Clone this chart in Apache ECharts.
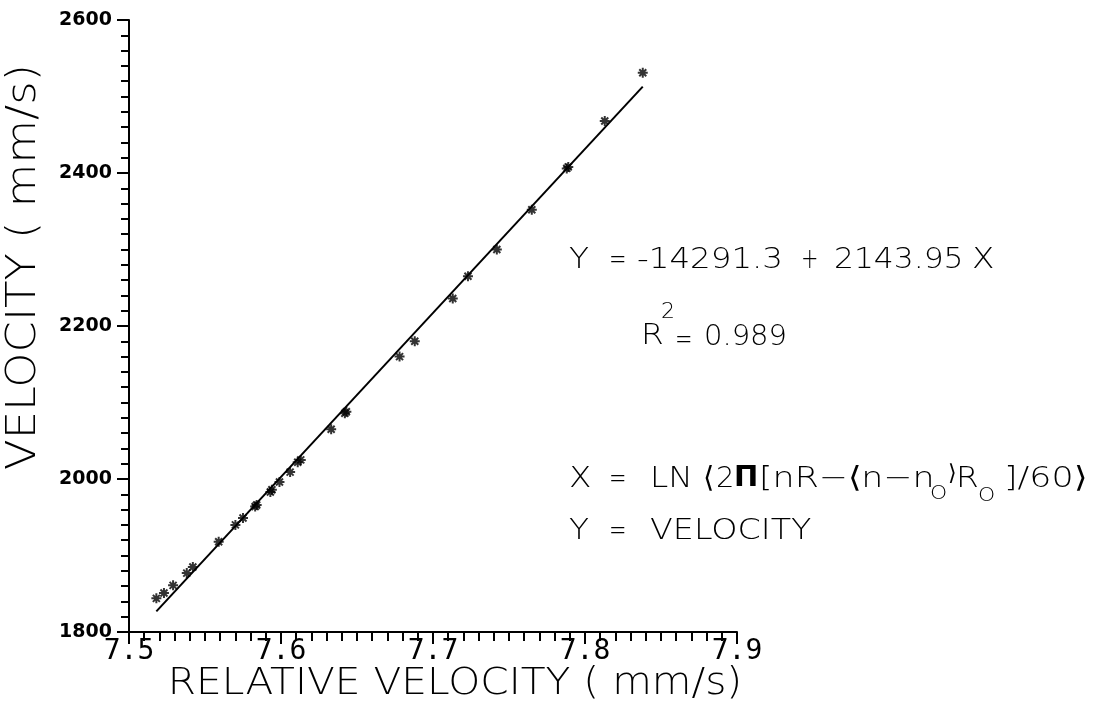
<!DOCTYPE html>
<html>
<head>
<meta charset="utf-8">
<script src="https://cdn.jsdelivr.net/npm/echarts@6/dist/echarts.min.js"></script>
<style>
  html, body { margin: 0; padding: 0; background: #fff; }
  #chart { width: 1107px; height: 706px; }
</style>
</head>
<body>
<div id="chart"></div>
<script>
// Measured runs: log relative velocity vs. velocity (mm/s)
const relVelocity = [7.518, 7.523, 7.529, 7.538, 7.542, 7.559, 7.570, 7.575, 7.583, 7.584,
                     7.593, 7.594, 7.599, 7.606, 7.611, 7.613, 7.633, 7.642, 7.643, 7.678,
                     7.688, 7.713, 7.723, 7.742, 7.765, 7.788, 7.789, 7.813, 7.838];
const velocity    = [1844, 1851, 1861, 1877, 1885, 1918, 1940, 1949, 1964, 1966,
                     1983, 1986, 1996, 2009, 2022, 2025, 2065, 2086, 2088, 2160,
                     2180, 2236, 2265, 2300, 2352, 2406, 2408, 2468, 2531];

// Least-squares line end points over the data range
const fitX = [7.518, 7.838];
const fitY = [1827, 2513];

// Regression summary
const intercept = '-14291.3';
const slope = '2143.95';
const rSquared = '0.989';

const xMin = 7.5, xMax = 7.9, xStep = 0.1;
const yMin = 1800, yMax = 2600, yStep = 200;

const points = relVelocity.map((x, i) => [x, velocity[i]]);
const fitLine = fitX.map((x, i) => [x, fitY[i]]);

const plotFont = '"DejaVu Sans", sans-serif';
const asterisk = 'path://M5,0L5,10M0,5L10,5M1.5,1.5L8.5,8.5M1.5,8.5L8.5,1.5';

// one piece of annotation text, left-anchored at (x, y)
function txt(text, x, y, size, opts) {
  opts = opts || {};
  return {
    type: 'text', x: x, y: y, silent: true,
    scaleX: opts.sx || 1, rotation: opts.rot || 0,
    style: {
      text: text, fill: '#000', fontFamily: plotFont, fontSize: size,
      fontWeight: opts.bold ? 'bold' : 200,
      align: opts.align || 'left', verticalAlign: 'middle'
    }
  };
}

const F = 29, L = 1.13, N = 0.72;   // annotation font size, letter stretch, narrow operators
const notes = [
  // Y = a + b X
  txt('Y', 569, 260, F, { sx: L }), txt('=', 609, 260, F, { sx: N }),
  txt(intercept, 637, 260, F, { sx: 1.12 }),
  txt('+', 801, 260, F, { sx: N }), txt(slope, 834, 260, F, { sx: 1.08 }), txt('X', 972, 260, F, { sx: L }),
  // R^2
  txt('R', 641, 336, F, { sx: L }), txt('2', 661, 312, 22), txt('=', 675, 340, F, { sx: N }),
  txt(rSquared, 704, 337, F),
  // X definition
  txt('X', 569, 479, F, { sx: L }), txt('=', 609, 479, F, { sx: N }), txt('LN', 650, 479, F, { sx: L }),
  txt('\u27E8', 703, 479, F), txt('2', 716, 479, F),
  txt('\u03A0', 734, 478, F, { bold: true }),
  txt('[nR\u2212\u27E8n\u2212n', 759, 479, F, { sx: 1.2 }),
  txt('O', 930, 494, 19, { sx: 1.15 }),
  txt('\u27E9', 948, 474, 22), txt('R', 956, 479, F, { sx: L }),
  txt('O', 978, 496, 19, { sx: 1.15 }),
  txt(']/60\u27E9', 1004, 479, F, { sx: 1.2 }),
  // Y definition
  txt('Y', 569, 531, F, { sx: L }), txt('=', 609, 531, F, { sx: N }), txt('VELOCITY', 650, 531, F, { sx: 1.15 }),
  // axis titles
  txt('RELATIVE VELOCITY ( mm/s)', 455, 684, 37, { sx: 1.1, align: 'center' }),
  txt('VELOCITY ( mm/s)', 25, 267, 40, { sx: 1.12, align: 'center', rot: Math.PI / 2 })
];

const chart = echarts.init(document.getElementById('chart'), null, { renderer: 'canvas' });
chart.setOption({
  backgroundColor: '#fff',
  animation: false,
  grid: { left: 129, right: 370, top: 20, bottom: 74 },
  xAxis: {
    type: 'value', min: xMin, max: xMax, interval: xStep,
    axisLine: { onZero: false, lineStyle: { color: '#000', width: 2 } },
    axisTick: { inside: false, length: 12, lineStyle: { color: '#000', width: 2 } },
    minorTick: { show: true, splitNumber: 10, length: 9, lineStyle: { color: '#000', width: 2 } },
    splitLine: { show: false },
    axisLabel: {
      margin: 6, color: '#000', fontFamily: '"DejaVu Sans Mono", monospace', fontSize: 28,
      formatter: v => v.toFixed(1)
    }
  },
  yAxis: {
    type: 'value', min: yMin, max: yMax, interval: yStep,
    axisLine: { onZero: false, lineStyle: { color: '#000', width: 2 } },
    axisTick: { inside: false, length: 12, lineStyle: { color: '#000', width: 2 } },
    minorTick: { show: true, splitNumber: 10, length: 8, lineStyle: { color: '#000', width: 2 } },
    splitLine: { show: false },
    axisLabel: {
      margin: 17, color: '#000', fontFamily: plotFont, fontSize: 19,
      fontWeight: 'bold', formatter: v => String(v)
    }
  },
  series: [
    {
      type: 'line', data: fitLine, symbol: 'none',
      lineStyle: { color: '#000', width: 2 }, z: 2
    },
    {
      type: 'scatter', data: points, symbol: asterisk, symbolSize: 10,
      itemStyle: { color: 'rgba(0,0,0,0)', borderColor: '#000', borderWidth: 2 }, z: 3
    }
  ],
  graphic: notes
});
</script>
</body>
</html>
